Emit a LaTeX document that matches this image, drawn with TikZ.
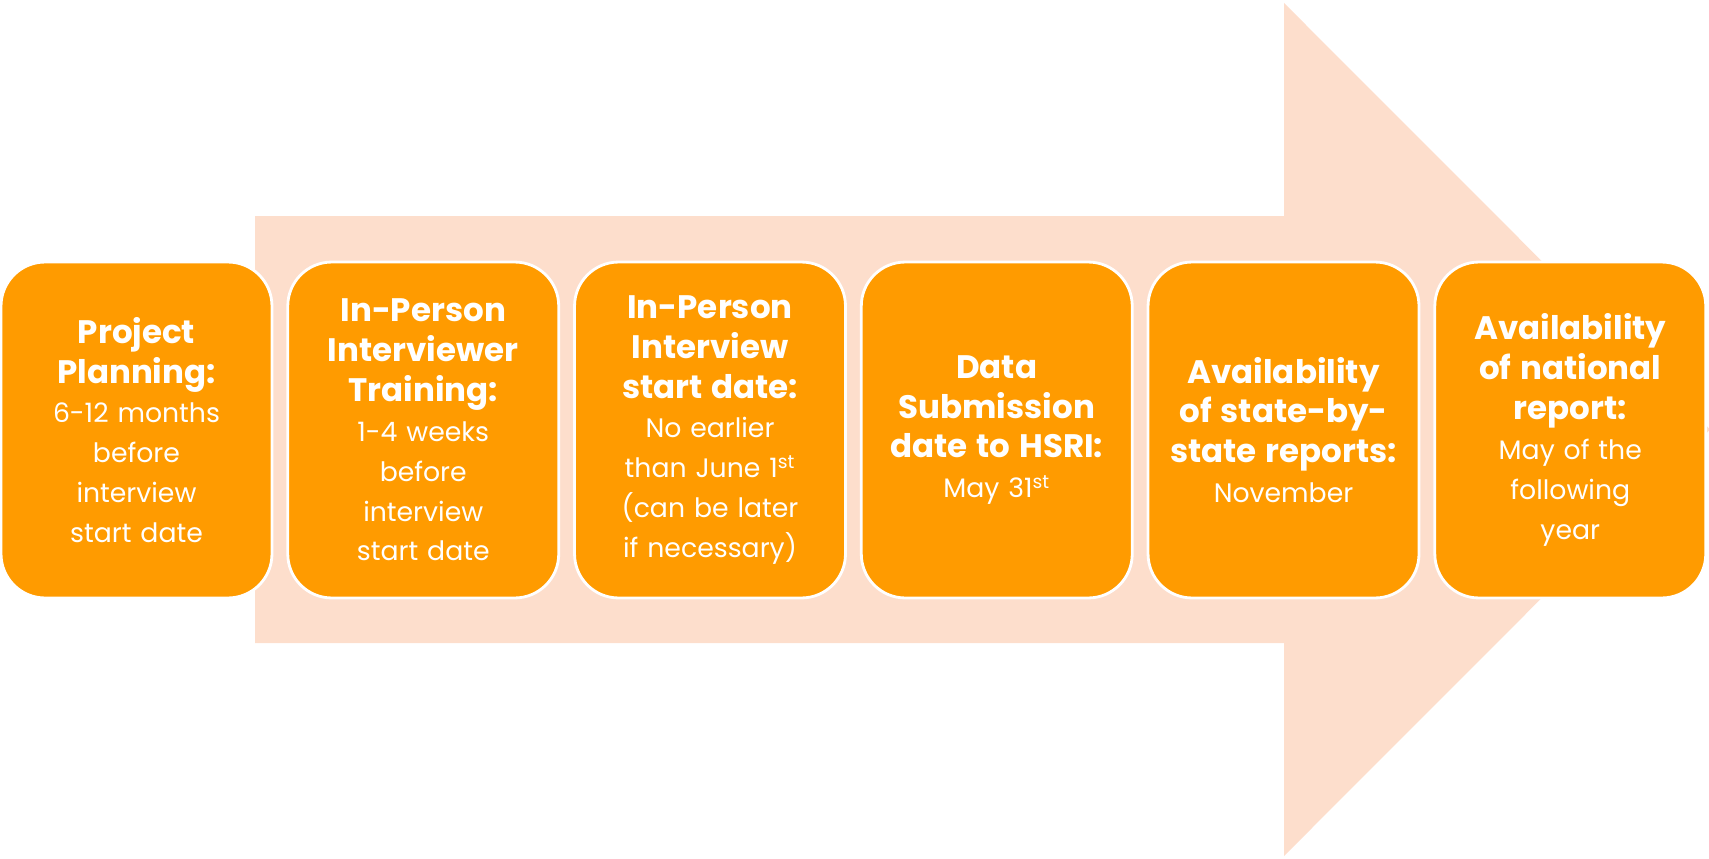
\documentclass[tikz,border=0pt]{standalone}
\usepackage{fontspec}
\setmainfont{Poppins}
\usepackage{tikz}
\usetikzlibrary{positioning}
\newcommand{\stagehead}[1]{{\fontsize{18.5}{22.7}\selectfont\bfseries #1}}

\begin{document}
\begin{tikzpicture}[x=0.02cm,y=-0.02cm,
  stagebox/.style={draw=white, line width=1.6pt, fill=boxColor, rounded corners=0.88cm,
    minimum width=5.42cm, minimum height=6.72cm, text width=5.2cm, align=center,
    text=white, inner sep=0pt, font=\fontsize{15.2}{22.7}\selectfont}]
\definecolor{arrowColor}{RGB}{253,222,204}
\definecolor{boxColor}{RGB}{255,155,0}
\useasboundingbox (0,0) rectangle (1709,858);
\fill[arrowColor] (255,216) -- (1284,216) -- (1284,3) -- (1710,429.5) -- (1284,856) -- (1284,643) -- (255,643) -- cycle;
\node[stagebox] (plan) at (136.5,430) {\stagehead{Project}\\\stagehead{Planning:}\\6-12 months\\before\\interview\\start date};
\node[stagebox, right=0.26cm of plan] (train) {\stagehead{In-Person}\\\stagehead{Interviewer}\\\stagehead{Training:}\\1-4 weeks\\before\\interview\\start date};
\node[stagebox, right=0.26cm of train] (start) {\stagehead{In-Person}\\\stagehead{Interview}\\\stagehead{start date:}\\No earlier\\than June 1\textsuperscript{st}\\(can be later\\if necessary)};
\node[stagebox, right=0.26cm of start] (submit) {\stagehead{Data}\\\stagehead{Submission}\\\stagehead{date to HSRI:}\\May 31\textsuperscript{st}};
\node[stagebox, right=0.26cm of submit] (state) {\stagehead{Availability}\\\stagehead{of state-by-}\\\stagehead{state reports:}\\November};
\node[stagebox, right=0.26cm of state] (national) {\stagehead{Availability}\\\stagehead{of national}\\\stagehead{report:}\\May of the\\following\\year};
\end{tikzpicture}
\end{document}
